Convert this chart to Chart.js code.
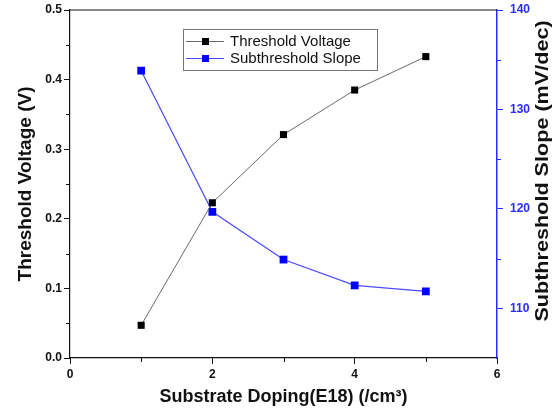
<!DOCTYPE html>
<html>
<head>
<meta charset="utf-8">
<script src="https://cdn.jsdelivr.net/npm/chart.js@4"></script>
<style>
  html, body { margin: 0; padding: 0; background: #fff; }
  canvas { display: block; }
</style>
</head>
<body>
<canvas id="chart" width="558" height="412"></canvas>
<script>
const doping = [1, 2, 3, 4, 5];
const thresholdVoltage = [0.047, 0.223, 0.321, 0.385, 0.433];
const subthresholdSlope = [133.9, 119.7, 114.9, 112.3, 111.7];

const FONT = '"Liberation Sans", Arial, sans-serif';
const BLUE = "#2a2aff";
const RIGHT_TITLE = "Subthreshold Slope (mV/dec)";

// minor ticks, the top frame line and the right axis title (read bottom-up)
const frame = {
  id: "frame",
  afterDraw(chart) {
    const ctx = chart.ctx;
    const a = chart.chartArea;
    const { x, y, y1 } = chart.scales;
    ctx.save();
    ctx.lineWidth = 1.2;
    ctx.strokeStyle = "#111";
    ctx.beginPath();
    ctx.moveTo(a.left, a.top);
    ctx.lineTo(a.right, a.top);
    ctx.stroke();

    ctx.lineWidth = 1;
    ctx.beginPath();
    [1, 3, 5].forEach((v) => {
      const px = Math.round(x.getPixelForValue(v)) + 0.5;
      ctx.moveTo(px, a.bottom);
      ctx.lineTo(px, a.bottom + 4);
    });
    [0.05, 0.15, 0.25, 0.35, 0.45].forEach((v) => {
      const py = Math.round(y.getPixelForValue(v)) + 0.5;
      ctx.moveTo(a.left, py);
      ctx.lineTo(a.left - 4, py);
    });
    ctx.stroke();

    ctx.strokeStyle = BLUE;
    ctx.beginPath();
    [115, 125, 135].forEach((v) => {
      const py = Math.round(y1.getPixelForValue(v)) + 0.5;
      ctx.moveTo(a.right, py);
      ctx.lineTo(a.right + 4, py);
    });
    ctx.stroke();

    ctx.translate(y1.right - 15, (a.top + a.bottom) / 2 - 13);
    ctx.rotate(-Math.PI / 2);
    ctx.scale(1.2, 1);
    ctx.font = "bold 18px " + FONT;
    ctx.fillStyle = "#111";
    ctx.textAlign = "center";
    ctx.textBaseline = "middle";
    ctx.fillText(RIGHT_TITLE, 0, 0);
    ctx.restore();
  },
};

// boxed legend inside the plot area
const boxLegend = {
  id: "boxLegend",
  afterDatasetsDraw(chart) {
    const ctx = chart.ctx;
    const left = 183, top = 29, w = 194, h = 41;
    ctx.save();
    ctx.fillStyle = "#fff";
    ctx.fillRect(left, top, w, h);
    ctx.strokeStyle = "#777";
    ctx.lineWidth = 1;
    ctx.strokeRect(left + 0.5, top + 0.5, w, h);
    ctx.font = "15px " + FONT;
    ctx.textBaseline = "middle";
    chart.data.datasets.forEach((ds, i) => {
      const cy = top + 12 + i * 17;
      ctx.strokeStyle = ds.borderColor;
      ctx.lineWidth = 1;
      ctx.beginPath();
      ctx.moveTo(left + 3, cy + 0.5);
      ctx.lineTo(left + 41, cy + 0.5);
      ctx.stroke();
      ctx.fillStyle = ds.pointBackgroundColor;
      ctx.fillRect(left + 19, cy - 3, 7, 7);
      ctx.fillStyle = "#111";
      ctx.fillText(ds.label, left + 47, cy + 1);
    });
    ctx.restore();
  },
};

const noPad = (s) => {
  s.paddingTop = 0;
  s.paddingBottom = 0;
};

new Chart(document.getElementById("chart"), {
  type: "line",
  data: {
    datasets: [
      {
        label: "Threshold Voltage",
        data: doping.map((d, i) => ({ x: d, y: thresholdVoltage[i] })),
        yAxisID: "y",
        borderColor: "#6a6a6a",
        borderWidth: 1,
        pointStyle: "rect",
        pointRadius: 5,
        pointBackgroundColor: "#000",
        pointBorderColor: "#000",
        pointBorderWidth: 0,
      },
      {
        label: "Subthreshold Slope",
        data: doping.map((d, i) => ({ x: d, y: subthresholdSlope[i] })),
        yAxisID: "y1",
        borderColor: "#4a4aff",
        borderWidth: 1.2,
        pointStyle: "rect",
        pointRadius: 5.5,
        pointBackgroundColor: "#0000ff",
        pointBorderColor: "#0000ff",
        pointBorderWidth: 0,
      },
    ],
  },
  options: {
    responsive: false,
    animation: false,
    devicePixelRatio: 1,
    layout: { padding: { top: 10 } },
    plugins: {
      legend: { display: false },
      tooltip: { enabled: false },
    },
    scales: {
      x: {
        type: "linear",
        position: "bottom",
        min: 0,
        max: 6,
        afterFit: (s) => {
          s.height = 54;
          s.paddingLeft = 0;
          s.paddingRight = 0;
        },
        ticks: {
          stepSize: 2,
          padding: 3,
          color: "#111",
          font: { family: FONT, size: 12, weight: "bold" },
        },
        grid: { drawOnChartArea: false, tickLength: 6, tickColor: "#111" },
        border: { color: "#111", width: 1.2 },
        title: {
          display: true,
          text: "Substrate Doping(E18) (/cm³)",
          color: "#111",
          font: { family: FONT, size: 18, weight: "bold" },
          padding: { top: 0, bottom: 4 },
        },
      },
      y: {
        position: "left",
        min: 0,
        max: 0.5,
        afterFit: (s) => {
          s.width = 70;
          noPad(s);
        },
        ticks: {
          stepSize: 0.1,
          padding: 2,
          color: "#111",
          font: { family: FONT, size: 12, weight: "bold" },
          callback: (v) => v.toFixed(1),
        },
        grid: { drawOnChartArea: false, tickLength: 6, tickColor: "#111" },
        border: { color: "#111", width: 1.2 },
        title: {
          display: true,
          text: "Threshold Voltage (V)",
          color: "#111",
          font: { family: FONT, size: 19, weight: "bold" },
          padding: { top: 14, bottom: 0 },
        },
      },
      y1: {
        position: "right",
        min: 105,
        max: 140,
        afterFit: (s) => {
          s.width = 61;
          noPad(s);
        },
        afterBuildTicks: (s) => {
          s.ticks = [110, 120, 130, 140].map((v) => ({ value: v }));
        },
        ticks: {
          padding: 7,
          color: BLUE,
          font: { family: FONT, size: 12, weight: "bold" },
        },
        grid: { drawOnChartArea: false, tickLength: 6, tickColor: BLUE },
        border: { color: BLUE, width: 1.5 },
      },
    },
  },
  plugins: [frame, boxLegend],
});
</script>
</body>
</html>
